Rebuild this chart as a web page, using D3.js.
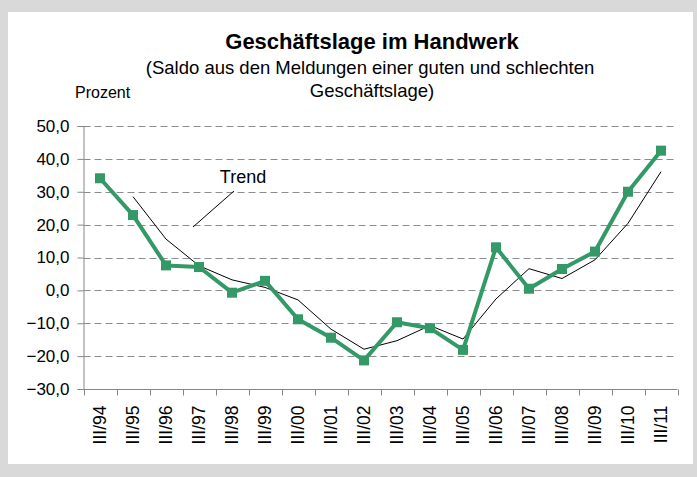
<!DOCTYPE html>
<html>
<head>
<meta charset="utf-8">
<script src="https://cdn.jsdelivr.net/npm/d3@7.9.0/dist/d3.min.js"></script>
<style>
  html, body { margin: 0; padding: 0; background: #d9d9d9; }
  svg { display: block; font-family: "Liberation Sans", Arial, sans-serif; }
</style>
</head>
<body>
<svg id="chart" width="697" height="477"></svg>
<script>
// values
const categories = ["III/94", "III/95", "III/96", "III/97", "III/98", "III/99", "III/00", "III/01", "III/02",
  "III/03", "III/04", "III/05", "III/06", "III/07", "III/08", "III/09", "III/10", "III/11"];
const saldo = [34.1, 22.9, 7.6, 7.1, -0.7, 2.9, -8.8, -14.4, -21.3, -9.7, -11.5, -18.1, 13.1, 0.5, 6.5, 11.8, 30.0, 42.5];
const trend = [null, 28.5, 15.6, 7.5, 3.2, 0.9, -2.9, -11.8, -17.9, -15.3, -10.7, -14.8, -2.6, 6.6, 3.6, 9.3, 20.4, 36.1];
const yTicks = [-30, -20, -10, 0, 10, 20, 30, 40, 50];

const green = "#339966";
const axisGray = "#868686";

const svg = d3.select("#chart");

// white panel
svg.append("rect")
  .attr("x", 8).attr("y", 12)
  .attr("width", 685).attr("height", 452)
  .attr("fill", "#fff");

const x = d3.scaleBand().domain(categories).range([83.5, 677.5]).padding(0);
const y = d3.scaleLinear().domain([-30, 50]).range([389, 126]);

const de = d3.formatLocale({ decimal: ",", thousands: ".", grouping: [3], currency: ["", " €"] });
const fmt = de.format(".1f");

// titles
svg.append("text")
  .attr("x", 372).attr("y", 48.5)
  .attr("text-anchor", "middle")
  .attr("font-size", 22).attr("font-weight", "bold")
  .text("Geschäftslage im Handwerk");
svg.append("text")
  .attr("x", 370).attr("y", 73.5)
  .attr("text-anchor", "middle")
  .attr("font-size", 18.5)
  .text("(Saldo aus den Meldungen einer guten und schlechten");
svg.append("text")
  .attr("x", 372).attr("y", 96.5)
  .attr("text-anchor", "middle")
  .attr("font-size", 18.5)
  .text("Geschäftslage)");
svg.append("text")
  .attr("x", 75).attr("y", 98)
  .attr("font-size", 16)
  .text("Prozent");

// dashed gridlines
svg.append("g")
  .selectAll("line")
  .data(yTicks.filter(d => d !== -30))
  .join("line")
  .attr("x1", 83.5).attr("x2", 677.5)
  .attr("y1", d => Math.round(y(d)) + 0.5)
  .attr("y2", d => Math.round(y(d)) + 0.5)
  .attr("stroke", "#8c8c8c")
  .attr("stroke-dasharray", "7,4");

// y axis
const yAxis = svg.append("g")
  .attr("transform", "translate(83.5,0)")
  .call(d3.axisLeft(y).tickValues(yTicks).tickFormat(fmt).tickSize(6).tickPadding(8));
yAxis.select(".domain").attr("stroke", axisGray);
yAxis.selectAll(".tick line").attr("stroke", axisGray);
yAxis.selectAll(".tick text")
  .attr("font-size", 17).attr("font-family", "Liberation Sans, Arial, sans-serif")
  .attr("fill", "#000");

// x axis with ticks at band edges
const xAxis = svg.append("g")
  .attr("transform", "translate(0,389.5)");
xAxis.append("line")
  .attr("x1", 83.5).attr("x2", 677.5)
  .attr("stroke", axisGray);
xAxis.selectAll("line.edge")
  .data(categories.concat([null]))
  .join("line")
  .attr("class", "edge")
  .attr("x1", (d, i) => Math.round(x.range()[0] + i * x.bandwidth()) + 0.5)
  .attr("x2", (d, i) => Math.round(x.range()[0] + i * x.bandwidth()) + 0.5)
  .attr("y1", 0).attr("y2", 6)
  .attr("stroke", axisGray);
xAxis.selectAll("text")
  .data(categories)
  .join("text")
  .attr("transform", d => `translate(${x(d) + x.bandwidth() / 2 + 6},16) rotate(-90)`)
  .attr("text-anchor", "end")
  .attr("font-size", 17.5)
  .text(d => d);

// trend line
const trendLine = d3.line()
  .defined(d => d != null)
  .x((d, i) => x(categories[i]) + x.bandwidth() / 2)
  .y(d => y(d));
svg.append("path")
  .attr("d", trendLine(trend))
  .attr("fill", "none")
  .attr("stroke", "#000")
  .attr("stroke-width", 1);

// saldo line with square markers
const saldoLine = d3.line()
  .x((d, i) => x(categories[i]) + x.bandwidth() / 2)
  .y(d => y(d));
svg.append("path")
  .attr("d", saldoLine(saldo))
  .attr("fill", "none")
  .attr("stroke", green)
  .attr("stroke-width", 4)
  .attr("stroke-linejoin", "round");
svg.append("g")
  .selectAll("rect")
  .data(saldo)
  .join("rect")
  .attr("x", (d, i) => x(categories[i]) + x.bandwidth() / 2 - 5)
  .attr("y", d => y(d) - 5)
  .attr("width", 10).attr("height", 10)
  .attr("fill", green);

// trend annotation
svg.append("text")
  .attr("x", 243).attr("y", 183)
  .attr("text-anchor", "middle")
  .attr("font-size", 18)
  .text("Trend");
svg.append("line")
  .attr("x1", 234).attr("y1", 191)
  .attr("x2", 193).attr("y2", 227)
  .attr("stroke", "#000")
  .attr("stroke-width", 1);
</script>
</body>
</html>
